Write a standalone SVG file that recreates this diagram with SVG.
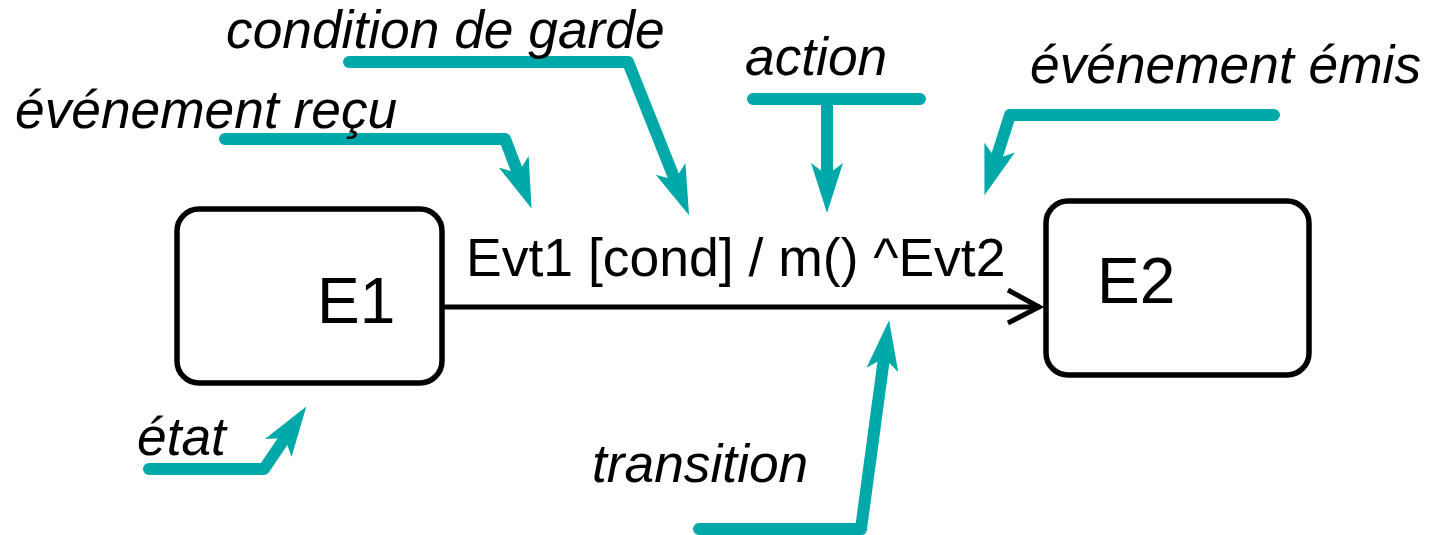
<svg xmlns="http://www.w3.org/2000/svg" width="1432" height="535" viewBox="0 0 1432 535">
<style>
.lbl{font-family:"Liberation Sans",Arial,sans-serif;font-style:italic;font-size:53.3px;fill:#000}
.st{font-family:"Liberation Sans",Arial,sans-serif;font-size:64px;fill:#000}
.tr{font-family:"Liberation Sans",Arial,sans-serif;font-size:53.5px;fill:#000}
.box{fill:#fff;stroke:#000;stroke-width:5.5}
.ann{fill:none;stroke:#00A9A9;stroke-width:12;stroke-linecap:round;stroke-linejoin:round;marker-end:url(#ah)}
</style>
<defs>
<marker id="ah" markerUnits="userSpaceOnUse" orient="auto" refX="0" refY="0" markerWidth="60" markerHeight="40" overflow="visible">
<path d="M38,0 L-12,-16 L0,0 L-12,16 Z" fill="#00A9A9"/>
</marker>
</defs>
<g id="E1">
<rect class="box" x="177" y="209" width="265" height="174" rx="22"/>
<text class="st" x="317" y="323">E1</text>
</g>
<g id="E2">
<rect class="box" x="1046" y="201" width="263" height="174" rx="22"/>
<text class="st" x="1097" y="303">E2</text>
</g>
<g id="connectors">
<g id="transition">
<line x1="444" y1="307" x2="1040" y2="307" stroke="#000" stroke-width="5"/>
<polyline points="1008,290 1039,307 1008,323" fill="none" stroke="#000" stroke-width="5"/>
<text class="tr" x="466" y="276">Evt1 [cond] / m() ^Evt2</text>
</g>
<path class="ann" d="M225,139 H505 L518,173"/>
<path class="ann" d="M349,62 H628 L675,180"/>
<path class="ann" d="M753,99 H920 M827,99 V175"/>
<path class="ann" d="M1274,115 H1010 L996,159"/>
<path class="ann" d="M149,469 H264 L285,438"/>
<path class="ann" d="M699,529 H861 L884,358"/>
</g>
<g id="labels">
<text class="lbl" x="226" y="48">condition de garde</text>
<text class="lbl" x="745" y="75">action</text>
<text class="lbl" x="1030" y="83">événement émis</text>
<text class="lbl" x="15" y="128">événement reçu</text>
<text class="lbl" x="137" y="455">état</text>
<text class="lbl" x="592" y="482">transition</text>
</g>
</svg>
